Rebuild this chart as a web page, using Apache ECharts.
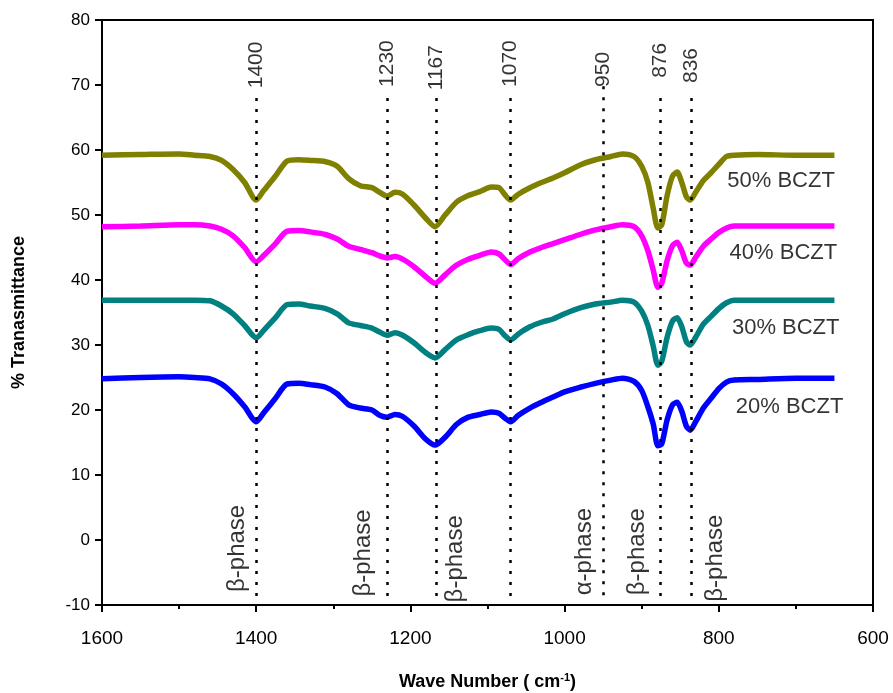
<!DOCTYPE html>
<html>
<head>
<meta charset="utf-8">
<script src="https://cdn.jsdelivr.net/npm/echarts@6/dist/echarts.min.js"></script>
<style>
  html, body { margin: 0; padding: 0; background: #fff; }
  #chart { width: 893px; height: 693px; }
</style>
</head>
<body>
<div id="chart"></div>
<script>
// wave numbers (cm-1), shared by all four spectra
const waveNumbers = [1600, 1550, 1500, 1480, 1460, 1445, 1430, 1415, 1400, 1390, 1375, 1360, 1345, 1330, 1310, 1295,
  1280, 1265, 1250, 1240, 1230, 1220, 1210, 1195, 1180, 1168, 1155, 1140, 1125, 1110, 1095, 1085, 1078, 1070,
  1060, 1045, 1030, 1015, 1000, 980, 960, 940, 925, 910, 900, 892, 885, 879, 874, 867, 860, 854, 848, 842, 837,
  830, 820, 810, 800, 790, 780, 750, 700, 650];

const bczt50 = [59.2, 59.3, 59.4, 59.2, 59.0, 58.4, 57.0, 55.0, 52.3, 53.8, 56.0, 58.3, 58.5, 58.4, 58.2, 57.5,
  55.6, 54.5, 54.2, 53.5, 52.9, 53.5, 53.2, 51.5, 49.5, 48.2, 50.0, 52.0, 53.0, 53.6, 54.3, 54.2, 53.2, 52.3,
  53.2, 54.2, 55.0, 55.7, 56.5, 57.7, 58.5, 59.0, 59.4, 59.0, 57.5, 55.0, 51.0, 48.0, 48.5, 53.0, 56.0, 56.6, 55.0, 52.8, 52.3,
  53.5, 55.3, 56.5, 57.8, 59.0, 59.2, 59.3, 59.2, 59.2];

const bczt40 = [48.2, 48.3, 48.5, 48.5, 48.3, 47.8, 46.8, 45.0, 42.8, 43.8, 45.6, 47.5, 47.6, 47.4, 47.0, 46.3,
  45.2, 44.7, 44.2, 43.7, 43.4, 43.6, 43.2, 42.0, 40.5, 39.5, 40.8, 42.3, 43.2, 43.8, 44.3, 44.0, 43.2, 42.4,
  43.3, 44.3, 45.0, 45.6, 46.2, 47.0, 47.7, 48.2, 48.5, 48.2, 46.8, 44.5, 41.5, 38.9, 39.5, 43.0, 45.3, 45.8, 44.5, 42.6, 42.3,
  43.5, 45.2, 46.3, 47.3, 48.0, 48.3, 48.3, 48.3, 48.3];

const bczt30 = [36.9, 36.9, 36.9, 36.9, 36.8, 36.0, 34.8, 33.0, 31.1, 32.3, 34.2, 36.2, 36.3, 36.0, 35.6, 34.8,
  33.4, 33.0, 32.6, 32.0, 31.5, 31.9, 31.5, 30.3, 28.8, 28.0, 29.3, 30.8, 31.6, 32.2, 32.6, 32.4, 31.5, 30.8,
  31.7, 32.8, 33.5, 34.0, 34.8, 35.7, 36.3, 36.6, 36.9, 36.6, 35.2, 33.0, 29.8, 26.9, 27.5, 31.2, 33.7, 34.2, 32.8, 30.5, 30.0,
  31.2, 33.2, 34.4, 35.6, 36.5, 36.9, 36.9, 36.9, 36.9];

const bczt20 = [24.8, 25.0, 25.1, 25.0, 24.8, 24.0, 22.5, 20.5, 18.2, 19.6, 21.8, 24.0, 24.1, 23.9, 23.5, 22.5,
  20.8, 20.3, 20.0, 19.2, 18.9, 19.3, 19.0, 17.5, 15.5, 14.6, 15.8, 17.8, 18.9, 19.3, 19.7, 19.5, 18.8, 18.2,
  19.2, 20.3, 21.2, 22.0, 22.8, 23.5, 24.1, 24.6, 24.9, 24.4, 23.0, 20.5, 17.8, 14.5, 14.8, 18.5, 20.8, 21.2, 19.8, 17.5, 16.9,
  18.2, 20.3, 21.8, 23.3, 24.3, 24.6, 24.7, 24.9, 24.9];

const seriesNames = ['50% BCZT', '40% BCZT', '30% BCZT', '20% BCZT'];
const peakWaves = [1400, 1230, 1167, 1070, 950, 876, 836];
const peakNames = ['1400', '1230', '1167', '1070', '950', '876', '836'];
const phaseNames = ['\u03b2-phase', '\u03b2-phase', '\u03b2-phase', '\u03b1-phase', '\u03b2-phase', '\u03b2-phase'];

// where the annotations sit, in data units
const peakLabelAt = [[1400, 69.5], [1230, 69.7], [1167, 69.2], [1070, 69.7], [950, 69.7], [876, 71.1], [836, 70.3]];
const phaseLabelAt = [[1424, -8.0], [1261, -8.7], [1142, -9.6], [974, -8.5], [905, -8.5], [804, -9.5]];
const nameLabelAt = [[789, 55.2], [786, 44.2], [783, 32.7], [778, 20.4]];
const lineTop = [68, 68, 68, 68, 69.8, 68, 68];

const colors = ['#808000', '#ff00ff', '#008080', '#0000ff'];
const values = [bczt50, bczt40, bczt30, bczt20];

const chart = echarts.init(document.getElementById('chart'));

const lineSeries = values.map((vals, i) => ({
  name: seriesNames[i],
  type: 'line',
  data: waveNumbers.map((w, j) => [w, vals[j]]),
  showSymbol: false,
  smooth: 0.25,
  lineStyle: { color: colors[i], width: 5.5 },
  z: 3
}));

const font = 'Liberation Sans, Arial, sans-serif';
const narrow = 'Liberation Sans Narrow, Liberation Sans, sans-serif';

chart.setOption({
  animation: false,
  grid: {
    left: 102, right: 20, top: 20, bottom: 88, outerBoundsMode: 'none',
    show: true, borderColor: '#000', borderWidth: 2
  },
  xAxis: {
    type: 'value', inverse: true, min: 600, max: 1600, interval: 200,
    name: '{b|Wave Number ( cm}{s|-1}{b|)}', nameLocation: 'middle', nameGap: 67,
    nameTextStyle: {
      rich: {
        b: { fontSize: 18, fontWeight: 'bold', fontFamily: narrow, color: '#000' },
        s: { fontSize: 11, fontWeight: 'bold', fontFamily: narrow, color: '#000', verticalAlign: 'top', padding: [0, 0, 10, 0] }
      }
    },
    axisLine: { onZero: false, lineStyle: { color: '#000', width: 2 } },
    axisTick: { inside: false, length: 7, lineStyle: { width: 2 } },
    minorTick: { show: true, splitNumber: 2, length: 4, lineStyle: { color: '#000', width: 2 } },
    splitLine: { show: false },
    axisLabel: { margin: 24, fontSize: 19, color: '#000', fontFamily: narrow, formatter: v => String(v) }
  },
  yAxis: {
    type: 'value', min: -10, max: 80, interval: 10,
    name: '% Tranasmittance', nameLocation: 'middle', nameGap: 74,
    nameTextStyle: { fontSize: 18, fontWeight: 'bold', color: '#000', fontFamily: narrow },
    axisLine: { onZero: false, lineStyle: { color: '#000', width: 2 } },
    axisTick: { inside: false, length: 7, lineStyle: { width: 2 } },
    splitLine: { show: false },
    axisLabel: { margin: 12, fontSize: 17, color: '#000', fontFamily: font }
  },
  series: lineSeries.concat([
    {
      type: 'scatter', silent: true, symbolSize: 0, z: 2,
      data: peakLabelAt.map((p, i) => ({ value: p, label: { formatter: peakNames[i] } })),
      label: { show: true, position: [0, 0], rotate: 90, align: 'left', verticalAlign: 'middle', fontSize: 21, color: '#000', fontFamily: font },
      markLine: {
        silent: true, symbol: 'none', label: { show: false },
        lineStyle: { color: '#000', type: [3, 8], width: 2.5 },
        data: peakWaves.map((w, i) => [{ coord: [w, lineTop[i]] }, { coord: [w, -8.8] }])
      }
    },
    {
      type: 'scatter', silent: true, symbolSize: 0, z: 2,
      data: phaseLabelAt.map((p, i) => ({ value: p, label: { formatter: phaseNames[i] } })),
      label: { show: true, position: [0, 0], rotate: 90, align: 'left', verticalAlign: 'middle', fontSize: 24, color: '#000', fontFamily: font }
    },
    {
      type: 'scatter', silent: true, symbolSize: 0, z: 4,
      data: nameLabelAt.map((p, i) => ({ value: p, label: { formatter: seriesNames[i] } })),
      label: { show: true, position: [0, 0], align: 'left', verticalAlign: 'middle', fontSize: 22, color: '#000', fontFamily: font }
    }
  ])
});
</script>
</body>
</html>
